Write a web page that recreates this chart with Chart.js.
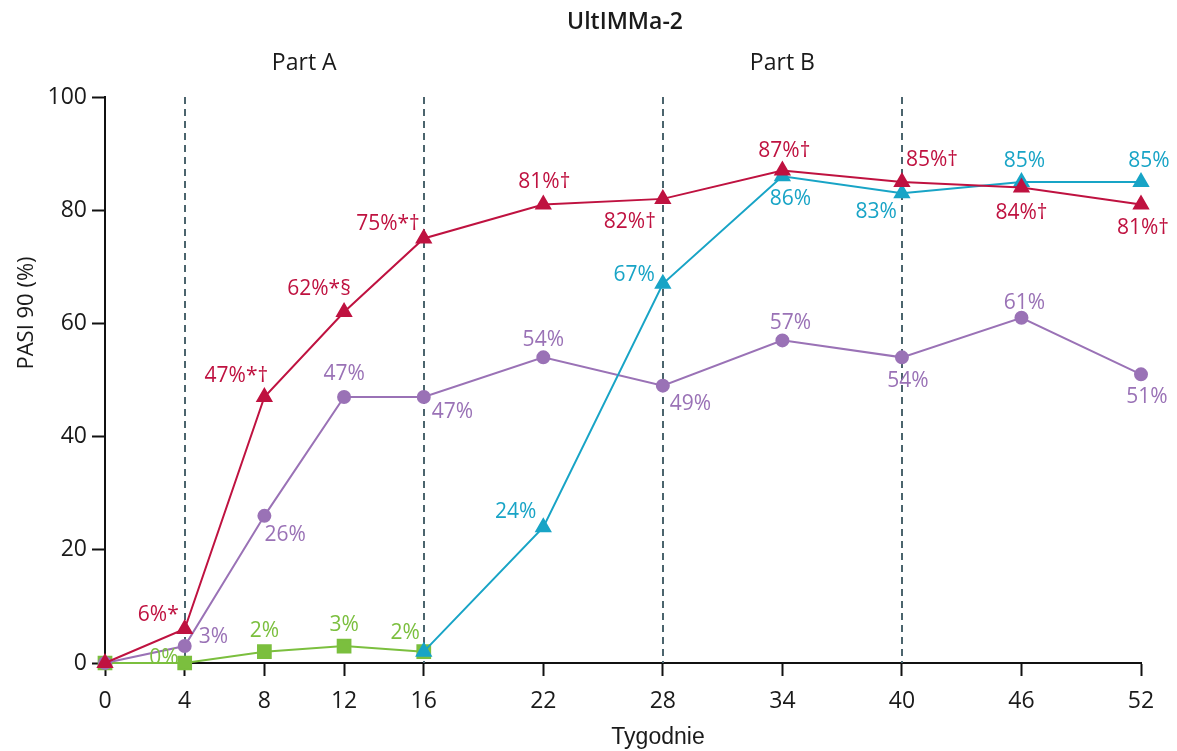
<!DOCTYPE html>
<html>
<head>
<meta charset="utf-8">
<script src="https://cdn.jsdelivr.net/npm/chart.js@4"></script>
<style>
  html, body { margin: 0; padding: 0; background: #fff; }
  canvas { display: block; }
</style>
</head>
<body>
<canvas id="chart" width="1177" height="751"></canvas>
<script>
// dane
const weeks = [0, 4, 8, 12, 16, 22, 28, 34, 40, 46, 52];
const redValues = [0, 6, 47, 62, 75, 81, 82, 87, 85, 84, 81];
const redLabels = ['', '6%*', '47%*†', '62%*§', '75%*†', '81%†', '82%†', '87%†', '85%†', '84%†', '81%†'];
const purpleValues = [0, 3, 26, 47, 47, 54, 49, 57, 54, 61, 51];
const purpleLabels = ['', '3%', '26%', '47%', '47%', '54%', '49%', '57%', '54%', '61%', '51%'];
const greenWeeks = [0, 4, 8, 12, 16];
const greenValues = [0, 0, 2, 3, 2];
const greenLabels = ['', '0%', '2%', '3%', '2%'];
const cyanWeeks = [16, 22, 28, 34, 40, 46, 52];
const cyanValues = [2, 24, 67, 86, 83, 85, 85];
const cyanLabels = ['', '24%', '67%', '86%', '83%', '85%', '85%'];
const yTicks = [0, 20, 40, 60, 80, 100];
const dividerWeeks = [4, 16, 28, 40];

// rozmieszczenie etykiet: [dx, dy, wyrównanie]
const redPlace = [null, [-6, -14, 'right'], [-28, -21, 'center'], [-25, -23, 'center'], [-4, -14, 'right'],
  [1, -23, 'center'], [-7, 23, 'right'], [2, -20, 'center'], [4, -22, 'left'], [0, 25, 'center'], [2, 23, 'center']];
const purplePlace = [null, [14, -9, 'left'], [0, 19, 'left'], [0, -23, 'center'], [8, 15, 'left'],
  [0, -17, 'center'], [7, 18, 'left'], [8, -17, 'center'], [6, 24, 'center'], [3, -15, 'center'], [6, 23, 'center']];
const greenPlace = [null, [-6, -5, 'right'], [0, -21, 'center'], [0, -21, 'center'], [-4, -19, 'right']];
const cyanPlace = [null, [-7, -15, 'right'], [-8, -9, 'right'], [8, 23, 'center'], [-5, 19, 'right'], [3, -21, 'center'], [8, -21, 'center']];

const RED = '#bf1240';
const PURPLE = '#9a72b6';
const GREEN = '#7bbf3e';
const CYAN = '#18a4c6';
const FONT = "'Open Sans', 'Noto Sans', sans-serif";
const TEXT = '#1a1a1a';

function points(xs, ys) {
    return xs.map((x, i) => ({ x: x, y: ys[i] }));
}

const pointLabels = {
    id: 'pointLabels',
    afterDatasetsDraw(chart) {
        const ctx = chart.ctx;
        ctx.save();
        ctx.font = '21px ' + FONT;
        ctx.textBaseline = 'middle';
        chart.data.datasets.forEach((ds, di) => {
            const meta = chart.getDatasetMeta(di);
            meta.data.forEach((pt, i) => {
                const place = ds.labelPlace[i];
                if (!place || !ds.labels[i]) return;
                ctx.fillStyle = ds.borderColor;
                ctx.textAlign = place[2];
                ctx.fillText(ds.labels[i], pt.x + place[0], pt.y + place[1]);
            });
        });
        ctx.restore();
    }
};

const decorations = {
    id: 'decorations',
    beforeDatasetsDraw(chart) {
        const ctx = chart.ctx;
        const x = chart.scales.x;
        const area = chart.chartArea;
        ctx.save();
        ctx.strokeStyle = '#4b646d';
        ctx.lineWidth = 2;
        ctx.setLineDash([7, 5]);
        dividerWeeks.forEach(w => {
            const px = Math.round(x.getPixelForValue(w));
            ctx.beginPath();
            ctx.moveTo(px, area.top);
            ctx.lineTo(px, area.bottom);
            ctx.stroke();
        });
        ctx.restore();
    },
    afterDraw(chart) {
        const ctx = chart.ctx;
        const x = chart.scales.x;
        ctx.save();
        ctx.fillStyle = TEXT;
        ctx.textAlign = 'center';
        ctx.textBaseline = 'middle';
        ctx.font = '600 23px ' + FONT;
        ctx.fillText('UltIMMa-2', 625, 22);
        ctx.font = '23px ' + FONT;
        ctx.fillText('Part A', x.getPixelForValue(10), 63);
        ctx.fillText('Part B', x.getPixelForValue(34), 63);
        ctx.font = "23px 'Liberation Sans', Arial, sans-serif";
        ctx.fillText('Tygodnie', 658, 738);
        ctx.translate(27, 313);
        ctx.rotate(-Math.PI / 2);
        ctx.font = '22px ' + FONT;
        ctx.fillText('PASI 90 (%)', 0, 0);
        ctx.restore();
    }
};

const ctx = document.getElementById('chart').getContext('2d');
new Chart(ctx, {
    type: 'line',
    data: {
        datasets: [
            {
                data: points(weeks, redValues), labels: redLabels, labelPlace: redPlace,
                borderColor: RED, backgroundColor: RED, pointStyle: 'triangle', pointRadius: 8,
                borderWidth: 2, order: 1, clip: false
            },
            {
                data: points(cyanWeeks, cyanValues), labels: cyanLabels, labelPlace: cyanPlace,
                borderColor: CYAN, backgroundColor: CYAN, pointStyle: 'triangle', pointRadius: 8,
                borderWidth: 2, order: 2, clip: false
            },
            {
                data: points(weeks, purpleValues), labels: purpleLabels, labelPlace: purplePlace,
                borderColor: PURPLE, backgroundColor: PURPLE, pointStyle: 'circle', pointRadius: 6,
                borderWidth: 2, order: 3, clip: false
            },
            {
                data: points(greenWeeks, greenValues), labels: greenLabels, labelPlace: greenPlace,
                borderColor: GREEN, backgroundColor: GREEN, pointStyle: 'rect', pointRadius: 9,
                borderWidth: 2, order: 4, clip: false
            }
        ]
    },
    options: {
        responsive: false,
        animation: false,
        devicePixelRatio: 1,
        layout: { padding: { top: 97, right: 36, left: 0, bottom: 0 } },
        plugins: {
            legend: { display: false },
            tooltip: { enabled: false }
        },
        elements: { line: { tension: 0 }, point: { borderWidth: 0 } },
        scales: {
            x: {
                type: 'linear',
                min: 0,
                max: 52,
                afterBuildTicks: scale => { scale.ticks = weeks.map(v => ({ value: v })); },
                afterFit: scale => { scale.height = 88; },
                grid: { drawOnChartArea: false, tickLength: 13, tickWidth: 2, tickColor: '#111' },
                border: { color: '#111', width: 2 },
                ticks: { color: TEXT, font: { family: FONT, size: 23 }, padding: 12, autoSkip: false, maxRotation: 0 }
            },
            y: {
                min: 0,
                max: 100,
                afterBuildTicks: scale => { scale.ticks = yTicks.map(v => ({ value: v })); },
                afterFit: scale => { scale.width = 105; },
                grid: { drawOnChartArea: false, tickLength: 13, tickWidth: 2, tickColor: '#111' },
                border: { color: '#111', width: 2 },
                ticks: { color: TEXT, font: { family: FONT, size: 23 }, padding: 5 }
            }
        }
    },
    plugins: [pointLabels, decorations]
});
</script>
</body>
</html>
